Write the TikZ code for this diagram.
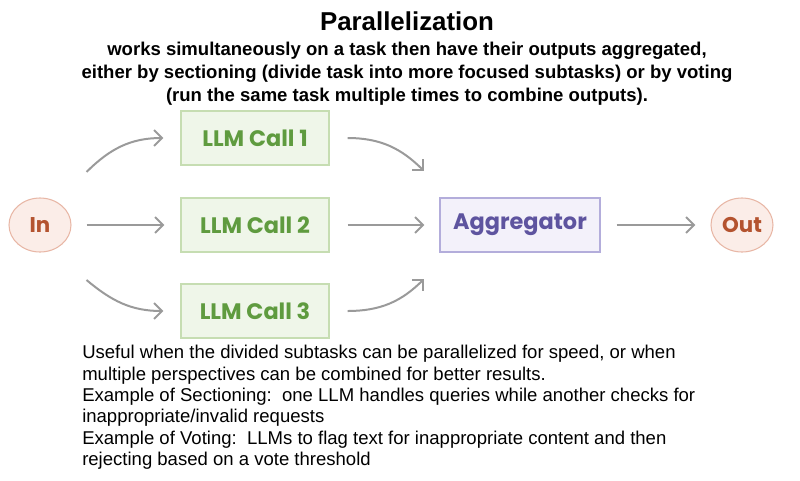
\documentclass[tikz,border=0pt]{standalone}
\usepackage{fontspec}
\setmainfont{Liberation Sans}
\newfontfamily\nodefont{Poppins}
\usetikzlibrary{arrows.meta}
\definecolor{arrowgray}{HTML}{9A9A9A}
\definecolor{endfill}{HTML}{FBEDE8}
\definecolor{enddraw}{HTML}{E8B7A6}
\definecolor{endtext}{HTML}{B4532F}
\definecolor{llmfill}{HTML}{EFF6E9}
\definecolor{llmdraw}{HTML}{C6DDB2}
\definecolor{llmtext}{HTML}{5F9B3F}
\definecolor{aggfill}{HTML}{F3F1FA}
\definecolor{aggdraw}{HTML}{B3ADDB}
\definecolor{aggtext}{HTML}{5E549F}
\tikzset{
  endpoint/.style={ellipse, draw=enddraw, fill=endfill, line width=0.8pt, minimum width=46.5pt, minimum height=40.5pt, inner sep=0pt, text=endtext, font=\nodefont\bfseries\fontsize{16}{18}\selectfont},
  llmbox/.style={rectangle, draw=llmdraw, fill=llmfill, line width=0.8pt, minimum width=111pt, minimum height=40.5pt, text=llmtext, font=\nodefont\bfseries\fontsize{16.8}{19}\selectfont},
  aggbox/.style={rectangle, draw=aggdraw, fill=aggfill, line width=0.8pt, minimum width=120pt, minimum height=40.5pt, text=aggtext, font=\nodefont\bfseries\fontsize{16.8}{19}\selectfont},
  flow/.style={draw=arrowgray, line width=1.5pt, -{Straight Barb[length=6pt, width=12pt, line width=1.5pt]}},
  note/.style={anchor=north west, align=left, inner sep=0pt, font=\fontsize{13.9}{16}\selectfont}
}
\usetikzlibrary{shapes.geometric}
\begin{document}
\begin{tikzpicture}[x=0.75pt, y=-0.75pt]
\useasboundingbox (0,0) rectangle (800,480);
% title and subtitle
\node (title) at (407,21) {\bfseries\fontsize{19.4}{23}\selectfont Parallelization};
\node[align=center, font=\bfseries\fontsize{13.9}{17.3}\selectfont] (subtitle) at (407,74)
  {works simultaneously on a task then have their outputs aggregated,\\
   either by sectioning (divide task into more focused subtasks) or by voting\\
   (run the same task multiple times to combine outputs).};
% nodes
\node[endpoint] (in) at (40,225) {In};
\node[llmbox] (call1) at (255,138) {LLM Call 1};
\node[llmbox] (call2) at (255,225) {LLM Call 2};
\node[llmbox] (call3) at (255,311) {LLM Call 3};
\node[aggbox] (agg) at (520,225) {Aggregator};
\node[endpoint] (out) at (742,225) {Out};
% connectors
\draw[flow] ([shift={(15,-53)}]in.east) to[out=45, in=180] ([xshift=-12.75pt]call1.west);
\draw[flow] ([xshift=11.25pt]in.east) -- ([xshift=-12pt]call2.west);
\draw[flow] ([shift={(15,55)}]in.east) to[out=-40, in=180] ([xshift=-12.75pt]call3.west);
\draw[flow] ([xshift=13.5pt]call1.east) to[out=0, in=135] ([shift={(-15,-26)}]agg.north west);
\draw[flow] ([xshift=13.5pt]call2.east) -- ([xshift=-11.25pt]agg.west);
\draw[flow] ([xshift=13.5pt]call3.east) to[out=0, in=225] ([shift={(-15,26)}]agg.south west);
\draw[flow] ([xshift=12pt]agg.east) -- ([xshift=-11.25pt]out.west);
% notes
\node[note] (notes) at (82,345)
  {Useful when the divided subtasks can be parallelized for speed, or when\\
   multiple perspectives can be combined for better results.\\
   Example of Sectioning:\ \ one LLM handles queries while another checks for\\
   inappropriate/invalid requests\\
   Example of Voting:\ \ LLMs to flag text for inappropriate content and then\\
   rejecting based on a vote threshold};
\end{tikzpicture}
\end{document}
